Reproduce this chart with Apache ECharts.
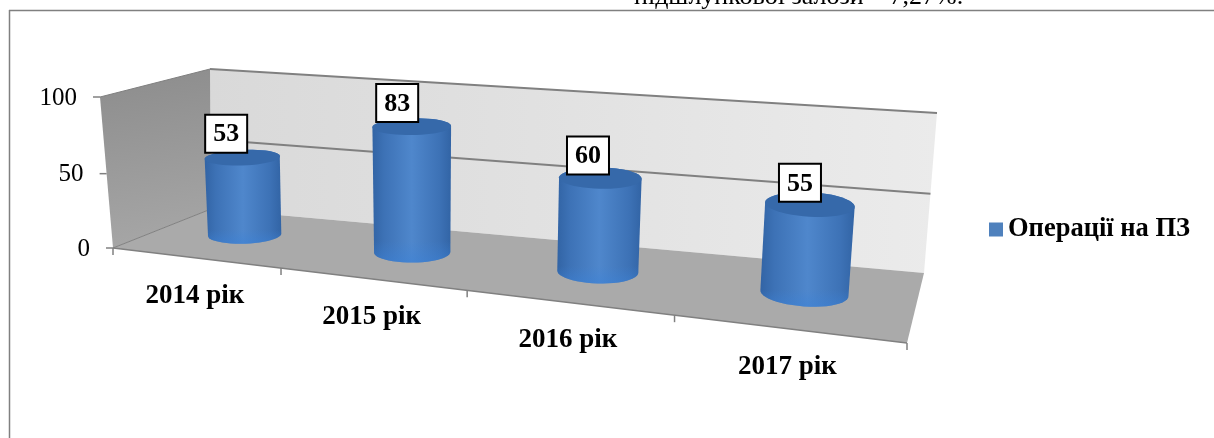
<!DOCTYPE html>
<html>
<head>
<meta charset="utf-8">
<style>html,body{margin:0;padding:0;background:#fff}#chart{width:1214px;height:438px}</style>
<script src="https://cdn.jsdelivr.net/npm/echarts@6/dist/echarts.min.js"></script>
</head>
<body>
<div id="chart"></div>
<script>
const categories = ['2014 рік', '2015 рік', '2016 рік', '2017 рік'];
const values = [53, 83, 60, 55];
const valueTicks = [0, 50, 100];
const seriesName = 'Операції на ПЗ';

const serif = '"Liberation Serif", "Times New Roman", serif';

// floor/wall corners of the 3D box, front plane (d=0) and back plane (d=1)
const front = { bl: [113, 248], br: [907, 343], tr: [921, 170], tl: [100, 97] };
const back = { bl: [211, 209], br: [924, 273], tr: [937, 113], tl: [210, 69] };
// extra foreshortening along the category direction
const uWarp = 1.068;

function lerp(a, b, t) {
    return [a[0] + (b[0] - a[0]) * t, a[1] + (b[1] - a[1]) * t];
}

// u: along categories 0..1, t: value 0..1, d: depth 0..1
function project(u0, t, d) {
    const u = u0 / (u0 + uWarp * (1 - u0));
    const p0 = lerp(front.bl, back.bl, d), p1 = lerp(front.br, back.br, d);
    const p2 = lerp(front.tr, back.tr, d), p3 = lerp(front.tl, back.tl, d);
    const dx1 = p1[0] - p2[0], dx2 = p3[0] - p2[0], sx = p0[0] - p1[0] + p2[0] - p3[0];
    const dy1 = p1[1] - p2[1], dy2 = p3[1] - p2[1], sy = p0[1] - p1[1] + p2[1] - p3[1];
    const den = dx1 * dy2 - dx2 * dy1;
    const g = (sx * dy2 - dx2 * sy) / den, h = (dx1 * sy - sx * dy1) / den;
    const a = p1[0] - p0[0] + g * p1[0], b = p3[0] - p0[0] + h * p3[0];
    const c = p1[1] - p0[1] + g * p1[1], e = p3[1] - p0[1] + h * p3[1];
    const w = g * u + h * t + 1;
    return [(a * u + b * t + p0[0]) / w, (c * u + e * t + p0[1]) / w];
}

// pixel from the hidden cartesian -> unit coordinates of the box
function toUnit(p, cs) {
    return [(p[0] - cs.x) / cs.width, (cs.y + cs.height - p[1]) / cs.height];
}

function hull(points) {
    const pts = points.slice().sort((a, b) => a[0] - b[0] || a[1] - b[1]);
    const cross = (o, a, b) => (a[0] - o[0]) * (b[1] - o[1]) - (a[1] - o[1]) * (b[0] - o[0]);
    const half = list => {
        const out = [];
        list.forEach(p => {
            while (out.length > 1 && cross(out[out.length - 2], out[out.length - 1], p) <= 0) out.pop();
            out.push(p);
        });
        out.pop();
        return out;
    };
    return half(pts).concat(half(pts.slice().reverse()));
}

const lineGray = '#808080';

function renderFrame(params, api) {
    const cs = params.coordSys;
    const poly = (pts, fill) => ({ type: 'polygon', shape: { points: pts }, style: { fill: fill, stroke: null } });
    const seg = (a, b, w) => ({
        type: 'line',
        shape: { x1: a[0], y1: a[1], x2: b[0], y2: b[1] },
        style: { stroke: lineGray, lineWidth: w || 1.5 }
    });
    const grad = (x1, y1, c1, c2) => new echarts.graphic.LinearGradient(0, 0, x1, y1, [
        { offset: 0, color: c1 }, { offset: 1, color: c2 }
    ]);
    const children = [
        poly([project(0, 0, 1), project(1, 0, 1), project(1, 1, 1), project(0, 1, 1)], grad(1, 0, '#d9d9d9', '#ebebeb')),
        poly([project(0, 0, 0), project(0, 0, 1), project(0, 1, 1), project(0, 1, 0)], grad(0.3, 1, '#8c8c8c', '#a6a6a6')),
        poly([project(0, 0, 0), project(1, 0, 0), project(1, 0, 1), project(0, 0, 1)], '#aaaaaa')
    ];
    // value gridlines on the back wall, ticks + labels on the front edge
    valueTicks.forEach(v => {
        const t = toUnit(api.coord([0, v]), cs)[1];
        if (v > 0) children.push(seg(project(0, t, 1), project(1, t, 1), 2));
        const a = project(0, t, 0);
        children.push(seg([a[0] - 7, a[1]], a, 1.5));
        children.push({
            type: 'text', x: a[0] - 23, y: a[1] + 1,
            style: { text: String(v), fontFamily: serif, fontSize: 25, fill: '#000', align: 'right', verticalAlign: 'middle' }
        });
    });
    children.push(seg(project(0, 0, 0), project(1, 0, 0), 1.5));
    children.push(seg(project(0, 0, 0), project(0, 0, 1), 1));
    children.push(seg(project(0, 1, 0), project(0, 1, 1), 1));
    for (let i = 0; i <= categories.length; i++) {
        const a = project(i / categories.length, 0, 0);
        children.push(seg(a, [a[0], a[1] + 7], 1.5));
    }
    return { type: 'group', children: children };
}

const cylDepth = 0.55;
const cylRadiusU = 0.05;
const cylRadiusD = 0.2;

function ring(u, t) {
    const out = [];
    for (let k = 0; k < 48; k++) {
        const a = k / 48 * Math.PI * 2;
        out.push(project(u + cylRadiusU * Math.cos(a), t, cylDepth + cylRadiusD * Math.sin(a)));
    }
    return out;
}

function renderCylinder(params, api) {
    const cs = params.coordSys;
    const idx = api.value(0);
    const val = api.value(1);
    const unit = toUnit(api.coord([idx, val]), cs);
    const u = unit[0], t = unit[1];
    const bottom = ring(u, 0), top = ring(u, t);
    const body = hull(bottom.concat(top));
    const side = new echarts.graphic.LinearGradient(0, 0, 1, 0, [
        { offset: 0, color: '#3264a5' },
        { offset: 0.15, color: '#3d72b6' },
        { offset: 0.5, color: '#4f87cc' },
        { offset: 0.85, color: '#3d72b6' },
        { offset: 1, color: '#3264a5' }
    ]);
    const rim = new echarts.graphic.LinearGradient(0, 0, 0, 1, [
        { offset: 0, color: 'rgba(60,130,215,0)' },
        { offset: 0.85, color: 'rgba(60,130,215,0)' },
        { offset: 1, color: 'rgba(60,130,215,0.55)' }
    ]);
    const lab = project(u, t, 0.45);
    const lx = lab[0] - 6.5, ly = lab[1] - 27.5;
    return {
        type: 'group',
        children: [
            { type: 'polygon', shape: { points: body }, style: { fill: side } },
            { type: 'polygon', shape: { points: body }, style: { fill: rim } },
            { type: 'polygon', shape: { points: top }, style: { fill: '#3669aa' } },
            {
                type: 'rect',
                shape: { x: lx - 21, y: ly - 19, width: 42, height: 38 },
                style: { fill: '#fff', stroke: '#000', lineWidth: 2 }
            },
            {
                type: 'text', x: lx, y: ly + 1,
                style: { text: String(val), fontFamily: serif, fontWeight: 'bold', fontSize: 26, fill: '#000', align: 'center', verticalAlign: 'middle' }
            }
        ]
    };
}

function renderCategoryLabel(params, api) {
    const cs = params.coordSys;
    const idx = api.value(0);
    const u = toUnit(api.coord([idx, 0]), cs)[0];
    const a = project(u, 0, 0);
    return {
        type: 'text', x: a[0], y: a[1] + 38,
        style: { text: categories[idx], fontFamily: serif, fontWeight: 'bold', fontSize: 27, fill: '#000', align: 'center', verticalAlign: 'middle' }
    };
}

const chart = echarts.init(document.getElementById('chart'), null, { renderer: 'canvas' });
chart.setOption({
    animation: false,
    backgroundColor: '#fff',
    grid: { left: 100, top: 60, width: 800, height: 200 },
    xAxis: { type: 'category', data: categories, show: false },
    yAxis: { type: 'value', min: 0, max: 100, interval: 50, show: false },
    legend: {
        data: [{ name: seriesName, icon: 'rect' }],
        left: 989, top: 216, padding: 0,
        itemWidth: 14, itemHeight: 14,
        textStyle: { fontFamily: serif, fontWeight: 'bold', fontSize: 26.5, color: '#000' },
        selectedMode: false
    },
    graphic: [
        { type: 'line', silent: true, shape: { x1: 9, y1: 10.5, x2: 1214, y2: 10.5 }, style: { stroke: lineGray, lineWidth: 1.5 } },
        { type: 'line', silent: true, shape: { x1: 9.5, y1: 10, x2: 9.5, y2: 438 }, style: { stroke: lineGray, lineWidth: 1.5 } },
        {
            type: 'text', silent: true, left: 634, top: -15.5,
            style: { text: 'підшлункової залози – 7,27%.', fontFamily: serif, fontSize: 26, fill: '#000' }
        }
    ],
    series: [
        { type: 'custom', silent: true, z: 1, data: [[0]], renderItem: renderFrame, encode: { x: 0, y: 0 } },
        {
            type: 'custom', name: seriesName, silent: true, z: 2,
            itemStyle: { color: '#4f81bd' },
            data: values.map((v, i) => [i, v]),
            renderItem: renderCylinder, encode: { x: 0, y: 1 }
        },
        {
            type: 'custom', silent: true, z: 3,
            data: categories.map((c, i) => [i, 0]),
            renderItem: renderCategoryLabel, encode: { x: 0, y: 1 }
        }
    ]
});
</script>
</body>
</html>
